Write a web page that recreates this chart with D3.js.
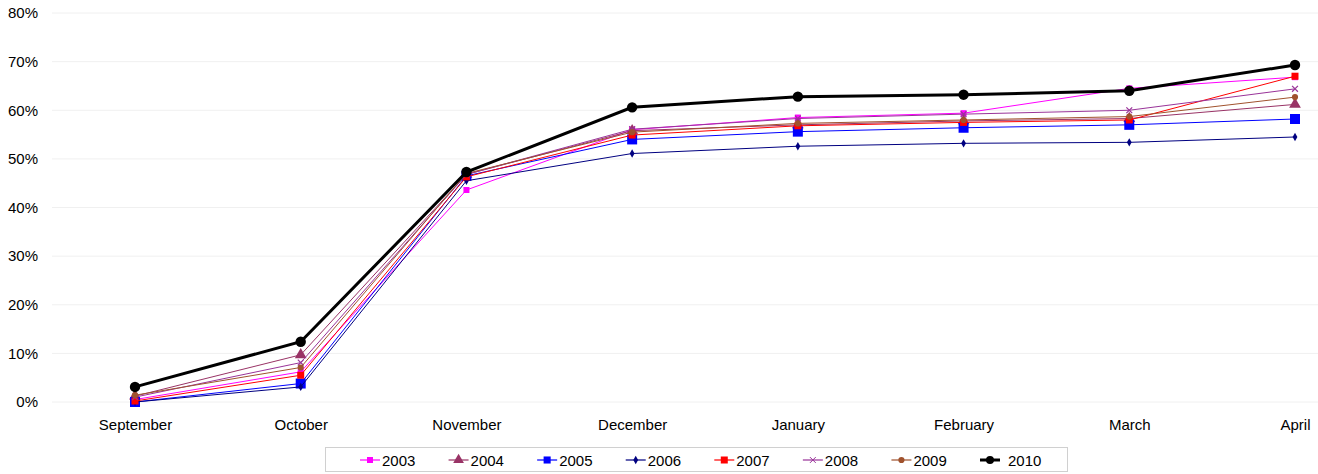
<!DOCTYPE html>
<html>
<head>
<meta charset="utf-8">
<script src="https://cdn.jsdelivr.net/npm/d3@7"></script>
<style>
  body { margin: 0; background: #fff; }
  text { font-family: "Liberation Sans", Arial, sans-serif; }
</style>
</head>
<body>
<script>
// months along the x axis
const months = ["September", "October", "November", "December", "January", "February", "March", "April"];
const yTicks = [0, 0.1, 0.2, 0.3, 0.4, 0.5, 0.6, 0.7, 0.8];

// one array per season (share of the total)
const s2003 = [0.005, 0.062, 0.436, 0.560, 0.585, 0.594, 0.645, 0.668];
const s2004 = [0.012, 0.097, 0.468, 0.558, 0.570, 0.578, 0.583, 0.612];
const s2005 = [0.000, 0.038, 0.465, 0.540, 0.556, 0.564, 0.570, 0.582];
const s2006 = [0.000, 0.031, 0.455, 0.511, 0.526, 0.532, 0.534, 0.545];
const s2007 = [0.002, 0.055, 0.463, 0.549, 0.568, 0.575, 0.580, 0.670];
const s2008 = [0.010, 0.081, 0.468, 0.561, 0.583, 0.592, 0.600, 0.644];
const s2009 = [0.014, 0.071, 0.470, 0.555, 0.573, 0.580, 0.587, 0.627];
const s2010 = [0.031, 0.124, 0.473, 0.606, 0.628, 0.632, 0.640, 0.693];

const seriesNames = ["2003", "2004", "2005", "2006", "2007", "2008", "2009", "2010"];
const seriesValues = [s2003, s2004, s2005, s2006, s2007, s2008, s2009, s2010];

// styling per series
const styles = [
  { color: "#ff00ff", width: 1, shape: d3.symbolSquare, size: 36 },
  { color: "#993366", width: 1, shape: d3.symbolTriangle, size: 60 },
  { color: "#0000ff", width: 1, shape: d3.symbolSquare, size: 100 },
  { color: "#000080", width: 1, shape: d3.symbolDiamond, size: 20 },
  { color: "#ff0000", width: 1, shape: d3.symbolSquare, size: 49 },
  { color: "#993399", width: 1, shape: d3.symbolTimes, size: 24 },
  { color: "#a0522d", width: 1, shape: d3.symbolCircle, size: 30 },
  { color: "#000000", width: 3, shape: d3.symbolCircle, size: 85 }
];

function main(){
    const W = 1318, H = 474;
    const svg = d3.select("body").append("svg")
        .attr("width", W)
        .attr("height", H);

    const x = d3.scalePoint().domain(months).range([135, 1295]);
    const y = d3.scaleLinear().domain([0, 0.8]).range([402, 13]);

    // gridlines
    svg.append("g").selectAll("line")
        .data(yTicks)
        .enter().append("line")
        .attr("x1", 52).attr("x2", W)
        .attr("y1", d => y(d)).attr("y2", d => y(d))
        .attr("stroke", "#f0f0f0")
        .attr("stroke-width", 1);

    // y axis labels
    const yAxis = svg.append("g")
        .attr("transform", "translate(38,0)")
        .call(d3.axisLeft(y).tickValues(yTicks).tickFormat(d3.format(".0%")).tickSize(0).tickPadding(0));
    yAxis.select(".domain").remove();
    yAxis.selectAll("text")
        .attr("font-size", "15px")
        .attr("font-family", "Liberation Sans, Arial, sans-serif")
        .attr("fill", "#000");

    // x axis labels
    const xAxis = svg.append("g")
        .attr("transform", "translate(0,419)")
        .call(d3.axisBottom(x).tickSize(0).tickPadding(0));
    xAxis.select(".domain").remove();
    xAxis.selectAll("text")
        .attr("font-size", "15px")
        .attr("font-family", "Liberation Sans, Arial, sans-serif")
        .attr("fill", "#000");

    const line = d3.line()
        .x((d, i) => x(months[i]))
        .y(d => y(d));

    seriesValues.forEach((vals, k) => {
        const st = styles[k];
        const g = svg.append("g");
        g.append("path")
            .datum(vals)
            .attr("d", line)
            .attr("fill", "none")
            .attr("stroke", st.color)
            .attr("stroke-width", st.width);
        g.selectAll(".pt")
            .data(vals)
            .enter().append("path")
            .attr("class", "pt")
            .attr("transform", (d, i) => "translate(" + x(months[i]) + "," + y(d) + ")")
            .attr("d", d3.symbol().type(st.shape).size(st.size))
            .attr("fill", st.shape === d3.symbolTimes ? "none" : st.color)
            .attr("stroke", st.shape === d3.symbolTimes ? st.color : "none")
            .attr("stroke-width", 1.2);
    });

    // legend
    const legend = svg.append("g");
    legend.append("rect")
        .attr("x", 325.5).attr("y", 447.5)
        .attr("width", 742).attr("height", 24)
        .attr("fill", "#fff")
        .attr("stroke", "#d0d0d0");

    const legX = d3.scalePoint().domain(seriesNames).range([370, 990]);
    seriesNames.forEach((name, k) => {
        const st = styles[k];
        const cx = legX(name);
        const item = legend.append("g");
        item.append("line")
            .attr("x1", cx - 10).attr("x2", cx + 10)
            .attr("y1", 460).attr("y2", 460)
            .attr("stroke", st.color)
            .attr("stroke-width", st.width === 3 ? 3 : 2)
            .attr("opacity", st.width === 3 ? 1 : 0.6);
        item.append("path")
            .attr("transform", "translate(" + cx + ",460)")
            .attr("d", d3.symbol().type(st.shape).size(Math.min(st.size, 50)))
            .attr("fill", st.shape === d3.symbolTimes ? "none" : st.color)
            .attr("stroke", st.shape === d3.symbolTimes ? st.color : "none");
        item.append("text")
            .attr("x", cx + (k === 7 ? 18 : 12))
            .attr("y", 465.5)
            .attr("font-size", "15px")
            .text(name);
    });
}
main();
</script>
</body>
</html>
